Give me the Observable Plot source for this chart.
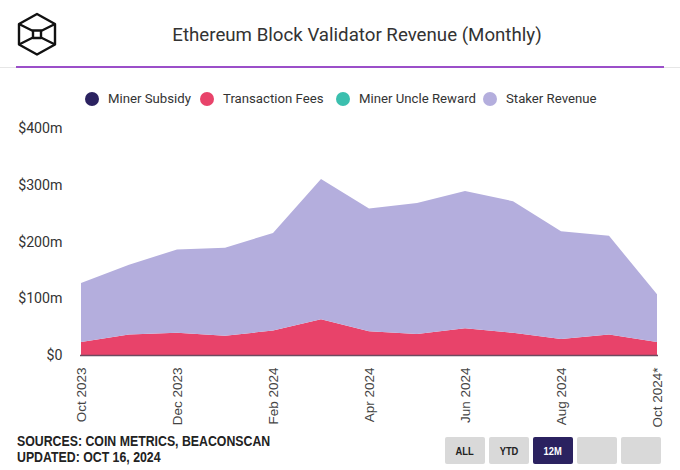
<!DOCTYPE html>
<html>
<head>
<meta charset="utf-8">
<script src="https://cdn.jsdelivr.net/npm/d3@7"></script>
<script src="https://cdn.jsdelivr.net/npm/@observablehq/plot@0.6"></script>
<style>
  html, body { margin: 0; padding: 0; background: #fff; }
  #wrap { position: relative; width: 680px; height: 470px; overflow: hidden; font-family: Roboto, "Noto Sans", sans-serif; color: #333; }
  #logo { position: absolute; left: 14px; top: 10px; }
  #title { position: absolute; left: 0; width: 714px; top: 24px; text-align: center; font-size: 18.7px; font-weight: 400; color: #333; }
  #greyline { position: absolute; left: 0; width: 680px; top: 67px; height: 1px; background: #e6e6e6; }
  #purpleline { position: absolute; left: 16px; width: 648px; top: 66px; height: 2px; background: #9b4fc9; }
  #legend { position: absolute; top: 91px; left: 0; width: 680px; height: 20px; }
  .li { position: absolute; top: 0; display: flex; align-items: center; font-size: 13.2px; color: #333; white-space: nowrap; }
  .li span.dot { width: 14px; height: 14px; border-radius: 50%; display: inline-block; margin-right: 9px; }
  #chart { position: absolute; left: 0; top: 110px; }
  #footer { position: absolute; left: 17px; top: 433px; font-family: "Liberation Sans", Arial, sans-serif; font-weight: bold; font-size: 14px; line-height: 16px; color: #222; transform: scaleX(0.88); transform-origin: left top; white-space: nowrap; }
  .btn { position: absolute; top: 437px; width: 40px; height: 27px; background: #d9d9d9; border-radius: 2px; font-family: "Liberation Sans", Arial, sans-serif; font-weight: bold; font-size: 11px; color: #222; display: flex; align-items: center; justify-content: center; }
  .btn span { display: inline-block; transform: scaleX(0.85); }
  .btn.on { background: #2b2260; color: #fff; }
</style>
</head>
<body>
<div id="wrap">
  <svg id="logo" width="46" height="48" viewBox="0 0 46 48">
    <g fill="none" stroke="#111" stroke-width="2.4" stroke-linejoin="round">
      <path d="M23 4 L41 14 L41 34.5 L23 44.5 L5 34.5 L5 14 Z"/>
      <path d="M5 14 L19 21 M41 14 L27 21 M5 34.5 L19 27.5 M41 34.5 L27 27.5"/>
      <path d="M19 20.5 L27 20.5 L27 28 L19 28 Z"/>
    </g>
  </svg>
  <div id="title">Ethereum Block Validator Revenue (Monthly)</div>
  <div id="greyline"></div>
  <div id="purpleline"></div>
  <div id="legend"></div>
  <div id="chart"></div>
  <div id="footer">SOURCES: COIN METRICS, BEACONSCAN<br>UPDATED: OCT 16, 2024</div>
  <div id="buttons"></div>
</div>
<script>
// ---- data (USD millions) ----
const months = ["Oct 2023","Nov 2023","Dec 2023","Jan 2024","Feb 2024","Mar 2024","Apr 2024","May 2024","Jun 2024","Jul 2024","Aug 2024","Sep 2024","Oct 2024*"];
const minerSubsidy     = [0,0,0,0,0,0,0,0,0,0,0,0,0];
const transactionFees  = [23,36,39,34,43,63,42,37,47,39,28,36,23];
const minerUncleReward = [0,0,0,0,0,0,0,0,0,0,0,0,0];
const stakerRevenue    = [104,123,147,155,172,247,216,231,242,232,190,174,84];
const seriesNames  = ["Miner Subsidy","Transaction Fees","Miner Uncle Reward","Staker Revenue"];
const seriesColors = ["#2b2260","#e8436a","#3bbfae","#b4aedd"];
const seriesValues = [minerSubsidy, transactionFees, minerUncleReward, stakerRevenue];
const yTicks = [0,100,200,300,400];
const xTickLabels = ["Oct 2023","Dec 2023","Feb 2024","Apr 2024","Jun 2024","Aug 2024","Oct 2024*"];
const buttonLabels = ["ALL","YTD","12M","",""];

// long table
const rows = [];
months.forEach((m, i) => {
  seriesNames.forEach((s, k) => rows.push({month: m, series: s, value: seriesValues[k][i]}));
});

// legend
const legendX = [85, 200, 336, 483];
const legend = document.getElementById("legend");
seriesNames.forEach((s, k) => {
  const d = document.createElement("div");
  d.className = "li";
  d.style.left = legendX[k] + "px";
  d.innerHTML = `<span class="dot" style="background:${seriesColors[k]}"></span>${s}`;
  legend.appendChild(d);
});

// buttons
const btns = document.getElementById("buttons");
buttonLabels.forEach((b, i) => {
  const d = document.createElement("div");
  d.className = "btn" + (b === "12M" ? " on" : "");
  d.style.left = (445 + i * 44) + "px";
  d.innerHTML = `<span>${b}</span>`;
  btns.appendChild(d);
});

const chart = Plot.plot({
  width: 680,
  height: 325,
  marginTop: 18,
  marginBottom: 80,
  marginLeft: 80,
  marginRight: 22,
  style: {fontFamily: "Roboto, 'Noto Sans', sans-serif", fontSize: "14px", color: "#333", background: "transparent"},
  x: {type: "point", domain: months, padding: 0, label: null},
  y: {domain: [0, 400], label: null},
  color: {domain: seriesNames, range: seriesColors},
  marks: [
    Plot.ruleY(yTicks.slice(1), {stroke: "#ececec", strokeWidth: 1.2, x1: months[0], x2: months[months.length-1]}),
    Plot.areaY(rows, Plot.stackY({x: "month", y: "value", fill: "series", curve: "linear"})),
    Plot.ruleY([0], {stroke: "#6e4a5f", strokeWidth: 1.6}),
    Plot.axisY({ticks: yTicks, tickSize: 0, tickPadding: 18, fontSize: 14.2,
      tickFormat: d => d === 0 ? "$0" : `$${d}m`}),
    Plot.axisX({ticks: xTickLabels, tickSize: 0, tickPadding: 12, tickRotate: -90,
      fontFamily: "'Liberation Sans', Arial, sans-serif", fontSize: 13.5, fill: "#444"})
  ]
});
document.getElementById("chart").appendChild(chart);
</script>
</body>
</html>
